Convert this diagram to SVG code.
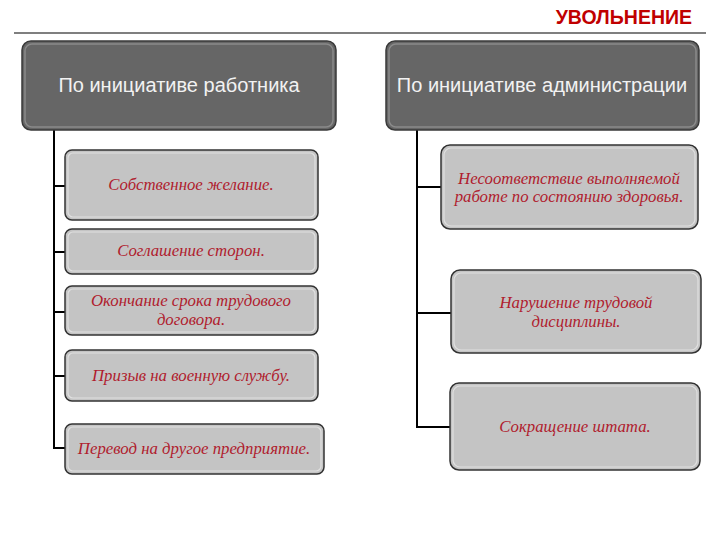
<svg xmlns="http://www.w3.org/2000/svg" width="720" height="540" viewBox="0 0 720 540">
<style>
.hdr{fill:#666;stroke:#3a3a3a;stroke-width:1.5}
.hdrin{fill:none;stroke:#8a8a8a;stroke-width:1.5}
.box{fill:#c4c4c4;stroke:#333;stroke-width:1.5}
.boxin{fill:none;stroke:#e0e0e0;stroke-width:1.2}
.ht{font-family:"Liberation Sans",Arial,sans-serif;font-size:20px;fill:#f2f2f2;text-anchor:middle}
.bt{font-family:"Liberation Serif","DejaVu Serif",serif;font-style:italic;font-size:16.8px;fill:#b01c2e;text-anchor:middle}
.con{fill:none;stroke:#000;stroke-width:2}
</style>
<rect width="720" height="540" fill="#fff"/>
<g id="title">
<text x="692" y="24" font-family="'Liberation Sans',Arial,sans-serif" font-weight="bold" font-size="19.5" fill="#c00000" text-anchor="end">УВОЛЬНЕНИЕ</text>
<line x1="14" y1="33" x2="706" y2="33" stroke="#555" stroke-width="1.5"/>
</g>
<g id="connectors">
<path class="con" d="M54 130 V448 H65 M54 186 H65 M54 252 H65 M54 312 H65 M54 376 H65"/>
<path class="con" d="M417 130 V427 H450 M417 187 H441 M417 313 H451"/>
</g>
<g id="h1">
<rect class="hdr" x="22" y="41" width="314" height="89" rx="9"/>
<rect class="hdrin" x="25" y="44" width="308" height="83" rx="7"/>
<text class="ht" x="179" y="92">По инициативе работника</text>
</g>
<g id="h2">
<rect class="hdr" x="386" y="41" width="313" height="89" rx="9"/>
<rect class="hdrin" x="389" y="44" width="307" height="83" rx="7"/>
<text class="ht" x="542" y="92">По инициативе администрации</text>
</g>
<g id="l1">
<rect class="box" x="65" y="150" width="253" height="70" rx="7"/>
<rect class="boxin" x="68" y="153" width="247" height="64" rx="5"/>
<text class="bt" x="191" y="190">Собственное желание.</text>
</g>
<g id="l2">
<rect class="box" x="65" y="229" width="253" height="45" rx="7"/>
<rect class="boxin" x="68" y="232" width="247" height="39" rx="5"/>
<text class="bt" x="191" y="256">Соглашение сторон.</text>
</g>
<g id="l3">
<rect class="box" x="65" y="286" width="253" height="49" rx="7"/>
<rect class="boxin" x="68" y="289" width="247" height="43" rx="5"/>
<text class="bt" x="191" y="306">Окончание срока трудового</text>
<text class="bt" x="191" y="325">договора.</text>
</g>
<g id="l4">
<rect class="box" x="65" y="350" width="253" height="51" rx="7"/>
<rect class="boxin" x="68" y="353" width="247" height="45" rx="5"/>
<text class="bt" x="191" y="381">Призыв на военную службу.</text>
</g>
<g id="l5">
<rect class="box" x="65" y="424" width="259" height="50" rx="7"/>
<rect class="boxin" x="68" y="427" width="253" height="44" rx="5"/>
<text class="bt" x="194" y="454">Перевод на другое предприятие.</text>
</g>
<g id="r1">
<rect class="box" x="441" y="145" width="257" height="84" rx="9"/>
<rect class="boxin" x="444" y="148" width="251" height="78" rx="7"/>
<text class="bt" x="569" y="184">Несоответствие выполняемой</text>
<text class="bt" x="569" y="202">работе по состоянию здоровья.</text>
</g>
<g id="r2">
<rect class="box" x="451" y="270" width="250" height="83" rx="9"/>
<rect class="boxin" x="454" y="273" width="244" height="77" rx="7"/>
<text class="bt" x="576" y="308">Нарушение трудовой</text>
<text class="bt" x="576" y="327">дисциплины.</text>
</g>
<g id="r3">
<rect class="box" x="450" y="383" width="250" height="87" rx="9"/>
<rect class="boxin" x="453" y="386" width="244" height="81" rx="7"/>
<text class="bt" x="575" y="432">Сокращение штата.</text>
</g>
</svg>
